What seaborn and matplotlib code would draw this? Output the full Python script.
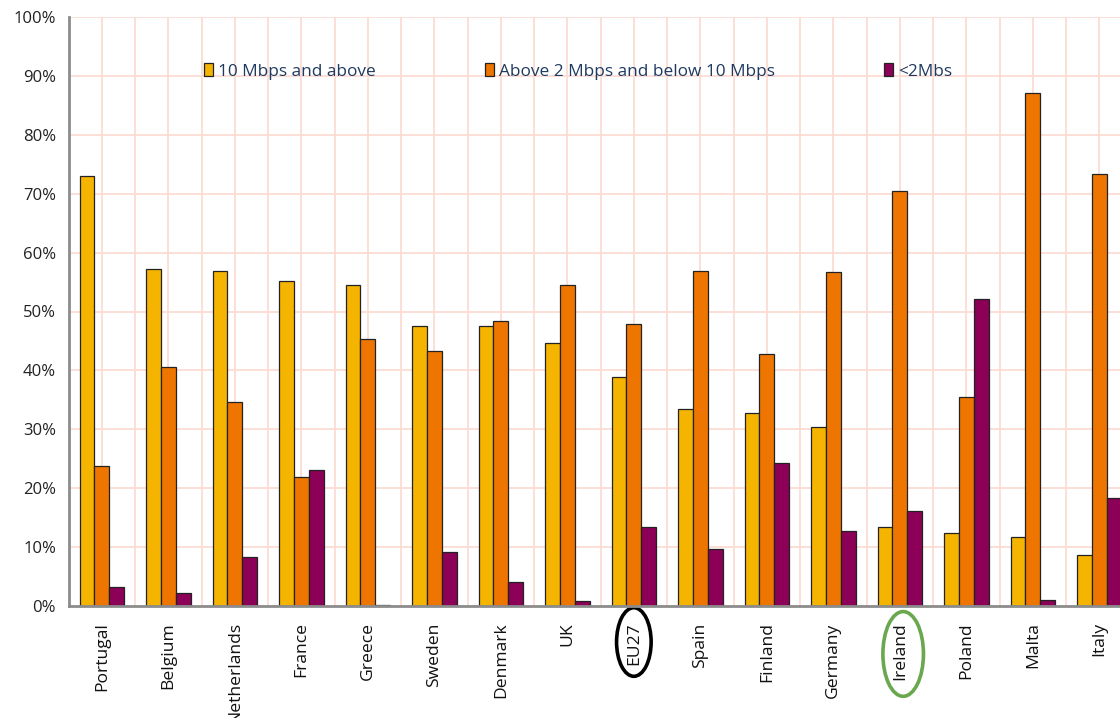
import matplotlib
matplotlib.use("Agg")
import matplotlib.pyplot as plt
from matplotlib.patches import Ellipse
from matplotlib.ticker import FixedLocator, PercentFormatter
import matplotlib.transforms as mtransforms
import seaborn as sns
import pandas as pd

countries = ["Portugal", "Belgium", "Netherlands", "France", "Greece", "Sweden",
             "Denmark", "UK", "EU27", "Spain", "Finland", "Germany", "Ireland",
             "Poland", "Malta", "Italy"]
series_names = ["10 Mbps and above", "Above 2 Mbps and below 10 Mbps", "<2Mbs"]
high_speed = [73.0, 57.3, 56.8, 55.1, 54.5, 47.6, 47.6, 44.7, 38.9, 33.4, 32.8,
              30.4, 13.3, 12.3, 11.7, 8.6]
mid_speed = [23.8, 40.5, 34.6, 21.8, 45.4, 43.3, 48.4, 54.5, 47.9, 56.9, 42.7,
             56.7, 70.5, 35.4, 87.2, 73.3]
low_speed = [3.2, 2.1, 8.3, 23.0, 0.2, 9.2, 4.1, 0.75, 13.3, 9.6, 24.3, 12.7,
             16.1, 52.2, 1.0, 18.3]
colors = ["#F5B400", "#EE7600", "#8C0058"]

rows = []
for name, vals in zip(series_names, [high_speed, mid_speed, low_speed]):
    for c, v in zip(countries, vals):
        rows.append({"country": c, "series": name, "value": v})
df = pd.DataFrame(rows)

sns.set_style("white")
plt.rcParams["font.family"] = ["Open Sans", "DejaVu Sans"]

fig = plt.figure(figsize=(11.2, 7.18), dpi=100)
ax = fig.add_axes([68.6 / 1120, 112.3 / 718, 1064 / 1120, 588.4 / 718])

sns.barplot(data=df, x="country", y="value", hue="series", order=countries,
            hue_order=series_names, palette=colors, width=0.67, gap=0,
            edgecolor="#222222", linewidth=0.9, saturation=1, ax=ax, zorder=3)

ax.set_xlim(-0.5, len(countries) - 0.5)
ax.set_ylim(0, 100)
ax.set_xlabel("")
ax.set_ylabel("")

# grid
ax.yaxis.set_major_locator(FixedLocator(range(0, 101, 10)))
ax.yaxis.set_major_formatter(PercentFormatter(decimals=0))
ax.xaxis.set_minor_locator(FixedLocator([i - 0.5 for i in range(len(countries) + 1)]))
ax.grid(True, which="both", axis="x", color="#FCDCD2", linewidth=1.3, zorder=0)
ax.grid(True, which="major", axis="y", color="#FCDCD2", linewidth=1.3, zorder=0)
ax.set_axisbelow(True)

ax.set_xticks(range(len(countries)))
ax.set_xticklabels(countries, rotation=90, fontsize=12.6, color="#111111")
ax.tick_params(axis="x", which="major", length=0, pad=12)
ax.tick_params(axis="x", which="minor", length=5, width=1.5, color="#8C8C8C")
ax.tick_params(axis="y", which="major", length=5, width=1.5, color="#8C8C8C",
               labelsize=12, labelcolor="#222222", pad=4)

for s in ["top", "right"]:
    ax.spines[s].set_visible(False)
for s in ["left", "bottom"]:
    ax.spines[s].set_color("#8C8C8C")
    ax.spines[s].set_linewidth(2)
    ax.spines[s].set_zorder(5)

# legend
handles, labels = ax.get_legend_handles_labels()
leg = ax.legend(handles, labels, ncol=3, loc="center left",
                bbox_to_anchor=(0.127, 0.908), frameon=False, borderpad=0,
                borderaxespad=0, handlelength=0.55, handleheight=0.75,
                handletextpad=0.3, columnspacing=6.3, fontsize=12.4)
for t in leg.get_texts():
    t.set_color("#1F3A60")

# highlight ellipses around EU27 and Ireland labels
trans = mtransforms.blended_transform_factory(ax.transData, ax.transAxes)
ax.add_patch(Ellipse((8.0, -0.0617), 0.52, 0.1166, transform=trans,
                     fill=False, edgecolor="black", linewidth=2.6, clip_on=False))
ax.add_patch(Ellipse((12.05, -0.082), 0.61, 0.144, transform=trans,
                     fill=False, edgecolor="#6AA84F", linewidth=2.6, clip_on=False))

fig.savefig("out.png", dpi=100)
